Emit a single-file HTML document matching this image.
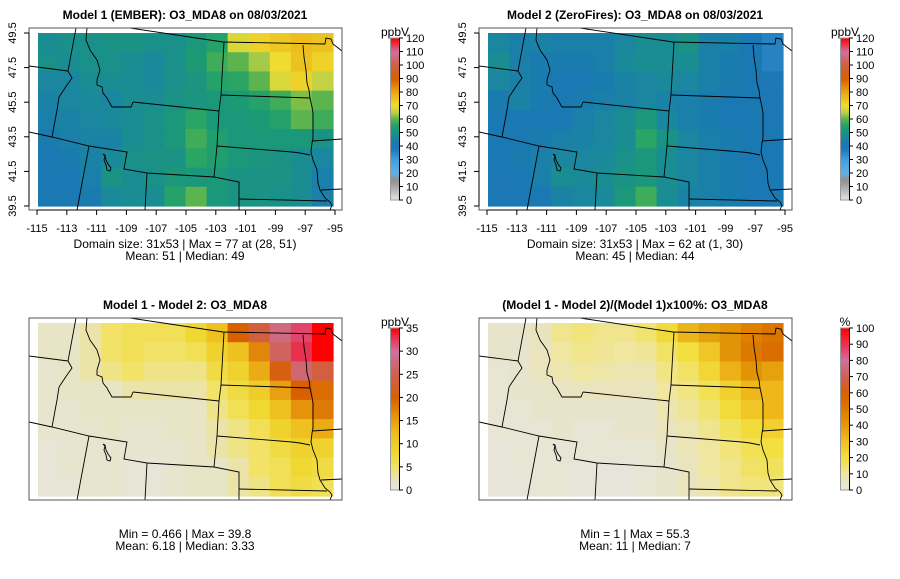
<!DOCTYPE html>
<html><head><meta charset="utf-8"><style>
body{margin:0;background:#fff;}
svg{display:block;font-family:"Liberation Sans",sans-serif;}
</style></head><body>
<svg id="chart" width="900" height="579" viewBox="0 0 900 579"></svg>
<script>
// ---- data (coarse 9 rows north->south x 14 cols west->east) ----
const model1 = [
[48,49,49,50,50,49,49,52,55,68,72,74,76,75],
[49,48,49,49,48,47,49,53,58,60,64,70,75,72],
[46,46,48,48,48,47,49,51,55,56,60,68,72,66],
[45,46,47,46,48,48,50,51,52,53,55,58,62,60],
[44,45,46,47,48,49,52,56,52,52,53,55,60,58],
[43,44,45,45,48,49,52,58,54,52,52,52,52,50],
[42,43,45,47,49,50,50,56,54,52,51,50,48,46],
[42,42,44,50,48,49,52,52,52,50,50,50,48,44],
[42,42,43,47,48,48,55,60,52,50,50,49,48,44]];
const model2 = [
[46,44,45,44,44,44,46,48,48,50,44,44,42,36],
[48,44,43,43,43,44,47,48,48,48,44,43,42,36],
[46,44,43,42,42,43,45,46,47,46,44,43,42,40],
[43,45,43,42,43,44,45,46,45,44,43,42,42,41],
[42,42,42,42,44,46,48,52,46,44,43,42,42,41],
[42,42,43,44,45,46,48,56,50,46,44,43,42,42],
[42,43,44,46,46,47,49,52,48,46,44,43,42,42],
[41,42,44,48,47,48,50,52,48,46,44,43,42,42],
[41,41,42,45,46,47,52,58,48,45,44,43,42,42]];
const diffVals = [
[2,2,3,5,6,6,6,8,12,20,24,28,32,36],
[2,2,3,5,6,5,5,6,9,12,17,26,33,36],
[1.5,2,3,4,5,4,4,4,7,9,14,21,27,24],
[1.5,2,2,2,3,3,3,3,5,7,10,15,20,19],
[1.5,1.5,2,2,2,2,2,2,4,6,8,12,16,18],
[1.5,1.5,1.5,2,1.5,1.5,2,2,3,4,6,9,12,14],
[1,1.5,1.5,1.5,1.5,1.5,1.5,2,3,4,5,7,9,9],
[1,1.5,1.5,1.5,1,1,1.5,2,2,3,5,6,8,7],
[1,1,1.5,1.5,1,1,1.5,2,2,3,4,6,7,6]];
const pctVals = [
[4,4,6,12,14,12,12,15,22,33,38,42,48,52],
[4,4,6,10,12,11,10,11,16,20,28,42,50,55],
[3,4,6,8,10,9,8,8,13,16,23,34,42,38],
[3,4,4,5,6,6,6,6,10,13,18,25,32,32],
[3,3,4,4,4,4,4,4,8,11,15,22,28,32],
[3,3,3,4,3,3,4,4,6,8,12,17,22,25],
[2,3,3,3,3,3,3,3,5,7,10,14,18,20],
[2,3,3,3,2,2,2,3,4,6,10,12,16,17],
[2,2,3,3,2,2,2,3,4,6,8,12,14,14]];
const lonTicks = [-115,-113,-111,-109,-107,-105,-103,-101,-99,-97,-95];
const latTicks = [39.5,41.5,43.5,45.5,47.5,49.5];
const absTicks = [0,10,20,30,40,50,60,70,80,90,100,110,120];
const diffTicks = [0,5,10,15,20,25,30,35];
const pctTicks = [0,10,20,30,40,50,60,70,80,90,100];

const absStops=[[0,'#e6e6e6'],[10,'#a8a8a8'],[15,'#909090'],[20,'#60b0e8'],[30,'#3fa0e0'],[38,'#1f78b8'],[42,'#1a78b2'],[46,'#1a86a0'],[49,'#19908a'],[53,'#1c9a74'],[57,'#30a860'],[61,'#6ab848'],[65,'#b8d048'],[70,'#f0dc30'],[80,'#e8a810'],[90,'#d86000'],[100,'#d06040'],[110,'#d070a0'],[120,'#ff0000']];
const diffStops=[[0,'#e6e6e6'],[2,'#e8e4c6'],[5,'#f2e268'],[8,'#f0d832'],[12,'#eec020'],[15,'#e8a010'],[20,'#d86000'],[25,'#d06050'],[30,'#d070a0'],[33,'#e83050'],[35,'#ff0000']];
const pctStops=[[0,'#e6e6e6'],[5,'#e8e4c6'],[10,'#f0e6a0'],[20,'#f2e040'],[30,'#f0c020'],[40,'#e49a08'],[50,'#dc7a00'],[60,'#d86000'],[70,'#d06050'],[80,'#d070a0'],[90,'#f03050'],[100,'#ff0000']];

function hex(c){return [1,3,5].map(i=>parseInt(c.substr(i,2),16));}
function colorAt(stops,v){
  if(v<=stops[0][0])return stops[0][1];
  for(let i=1;i<stops.length;i++){
    if(v<=stops[i][0]){
      const t=(v-stops[i-1][0])/(stops[i][0]-stops[i-1][0]);
      const a=hex(stops[i-1][1]),b=hex(stops[i][1]);
      return 'rgb('+a.map((x,k)=>Math.round(x+(b[k]-x)*t)).join(',')+')';
    }
  }
  return stops[stops.length-1][1];
}
const NS='http://www.w3.org/2000/svg';
const svg=document.getElementById('chart');
function mk(tag,attrs,parent,text){
  const e=document.createElementNS(NS,tag);
  for(const k in attrs)e.setAttribute(k,attrs[k]);
  if(text!==undefined)e.textContent=text;
  (parent||svg).appendChild(e);return e;
}
// map boundaries (panel-local pixel coords)
const borders=[
[[130,28],[223,42],[325,44],[326,38],[331,39],[333,44],[342,51]],
[[29,66],[68,71]],
[[76,28],[68,71],[72,78],[67,85],[59,97],[57,110],[52,137]],
[[87,28],[86,40],[90,50],[97,60],[100,70],[97,80],[97,85],[102,87],[103,93],[107,98],[108,100],[112,107],[118,107],[127,107],[131,107],[133,102]],
[[133,102],[219,111]],
[[224,42],[221,95],[219,111],[217,146],[214,177],[239,182],[239,210]],
[[221,95],[310,98]],
[[217,146],[292,152],[300,153],[310,155]],
[[239,199],[327,201]],
[[29,132],[52,137],[89,146],[127,152],[124,169],[147,173],[214,177]],
[[89,146],[77,210]],
[[147,173],[145,210]],
[[303,45],[304,57],[306,70],[307,83],[309,90],[310,98],[312,107],[313,113],[313,138],[312,143],[311,152],[313,160],[317,170],[318,183],[320,190],[325,198],[330,202],[332,205],[330,210]],
[[312,141],[342,139]],
[[321,190],[342,189]],
[[103,154],[105,156],[104,160],[106,165],[107,170],[110,171],[111,168],[108,164],[106,160],[105,155],[103,154]]
];
function lonX(l){return 37+(l+115)*14.9;}
function latY(l){return 33+(49.5-l)*17.3;}

function panel(ox,oy,opt){
  const g=mk('g',{transform:`translate(${ox},${oy})`});
  
  
  const t=mk('text',{x:185,y:19,'text-anchor':'middle','font-size':12,'font-weight':'bold'},g,opt.title);
  
  
  const x0=38,x1=333,y0=33,y1=206;
  const rows=opt.data.length,cols=opt.data[0].length;
  const cw=(x1-x0)/cols,ch=(y1-y0)/rows;
  const hg=mk('g',{},g);
  
  
  opt.data.forEach((row,r)=>row.forEach((v,c)=>{
    const cell=mk('rect',{x:(x0+c*cw).toFixed(2),y:(y0+r*ch).toFixed(2),width:(cw+0.6).toFixed(2),height:(ch+0.6).toFixed(2),fill:colorAt(opt.stops,v)},hg);
    
    
  }));
  const cid='clip'+ox+'_'+oy;
  const cp=mk('clipPath',{id:cid},g);mk('rect',{x:29,y:28,width:313,height:182},cp);
  const bg=mk('g',{'clip-path':`url(#${cid})`,fill:'none',stroke:'#000','stroke-width':0.9},g);
  
  
  borders.forEach(p=>mk('polyline',{points:p.map(q=>q.join(',')).join(' ')},bg));
  const box=mk('rect',{x:29,y:28,width:313,height:182,fill:'none',stroke:'#555','stroke-width':1},g);
  
  
  if(opt.axes){
    const xa=mk('g',{},g);
    
    
    mk('line',{x1:lonX(-115),x2:lonX(-95),y1:210,y2:210,stroke:'#000'},xa);
    lonTicks.forEach(l=>{
      mk('line',{x1:lonX(l),x2:lonX(l),y1:210,y2:215,stroke:'#000'},xa);
      mk('text',{x:lonX(l),y:232,'text-anchor':'middle','font-size':11},xa,String(l));
    });
    const ya=mk('g',{},g);
    
    
    mk('line',{x1:29,x2:29,y1:latY(49.5),y2:latY(39.5),stroke:'#000'},ya);
    latTicks.forEach(l=>{
      mk('line',{x1:24,x2:29,y1:latY(l),y2:latY(l),stroke:'#000'},ya);
      mk('text',{x:0,y:0,'text-anchor':'middle','font-size':11,transform:`translate(16,${latY(l)}) rotate(-90)`},ya,l.toFixed(1));
    });
  }
  const st=mk('g',{'font-size':12,'text-anchor':'middle'},g);
  
  
  mk('text',{x:185,y:opt.statY},st,opt.stat1);
  mk('text',{x:185,y:opt.statY+12},st,opt.stat2);
  // colorbar
  const cb=mk('g',{},g);
  
  
  const vmax=opt.ticks[opt.ticks.length-1];
  const n=80,by0=38,by1=200;
  for(let i=0;i<n;i++){
    const v=(i+0.5)/n*vmax;
    mk('rect',{x:391,y:(by1-(i+1)*(by1-by0)/n).toFixed(2),width:8,height:((by1-by0)/n+0.4).toFixed(2),fill:colorAt(opt.stops,v)},cb);
  }
  mk('rect',{x:390.5,y:by0,width:9,height:by1-by0,fill:'none',stroke:'#999','stroke-width':1},cb);
  mk('line',{x1:399.5,x2:399.5,y1:by0,y2:by1,stroke:'#000'},cb);
  opt.ticks.forEach(tk=>{
    const y=by1-tk/vmax*(by1-by0);
    mk('line',{x1:399,x2:403,y1:y,y2:y,stroke:'#000'},cb);
    mk('text',{x:406,y:y+4,'font-size':11},cb,tk);
  });
  mk('text',{x:395,y:36,'text-anchor':'middle','font-size':12},cb,opt.unit);
}
panel(0,0,{name:'panel-model1',title:'Model 1 (EMBER): O3_MDA8 on 08/03/2021',data:model1,stops:absStops,ticks:absTicks,unit:'ppbV',axes:true,statY:248,stat1:'Domain size: 31x53 | Max = 77 at (28, 51)',stat2:'Mean: 51 |  Median: 49'});
panel(450,0,{name:'panel-model2',title:'Model 2 (ZeroFires): O3_MDA8 on 08/03/2021',data:model2,stops:absStops,ticks:absTicks,unit:'ppbV',axes:true,statY:248,stat1:'Domain size: 31x53 | Max = 62 at (1, 30)',stat2:'Mean: 45 |  Median: 44'});
panel(0,290,{name:'panel-difference',title:'Model 1 - Model 2: O3_MDA8',data:diffVals,stops:diffStops,ticks:diffTicks,unit:'ppbV',axes:false,statY:248,stat1:'Min = 0.466 | Max = 39.8',stat2:'Mean: 6.18 |  Median: 3.33'});
panel(450,290,{name:'panel-percent-difference',title:'(Model 1 - Model 2)/(Model 1)x100%: O3_MDA8',data:pctVals,stops:pctStops,ticks:pctTicks,unit:'%',axes:false,statY:248,stat1:'Min = 1 | Max = 55.3',stat2:'Mean: 11 |  Median: 7'});
</script>
</body></html>
